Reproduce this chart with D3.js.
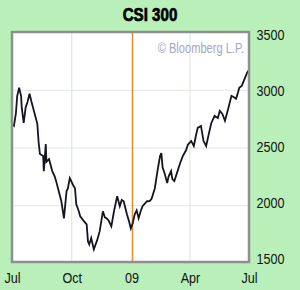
<!DOCTYPE html>
<html>
<head>
<meta charset="utf-8">
<script src="https://cdn.jsdelivr.net/npm/d3@7"></script>
<style>
  body { margin: 0; background: #b9efb9; }
  svg { display: block; }
  .tick-label { font-family: "Liberation Sans", Arial, sans-serif; font-size: 14px; fill: #111; }
</style>
</head>
<body>
<svg class="svg"></svg>
<script>
// CSI 300 close, Jul 2008 - Jul 2009
const dates = [
    '2008-07-02', '2008-07-04', '2008-07-07', '2008-07-09', '2008-07-12', '2008-07-15', '2008-07-16',
    '2008-07-19', '2008-07-22', '2008-07-25', '2008-07-28', '2008-07-31', '2008-08-05', '2008-08-09',
    '2008-08-11', '2008-08-13', '2008-08-18', '2008-08-19', '2008-08-22', '2008-08-23', '2008-08-27',
    '2008-09-01', '2008-09-05', '2008-09-07', '2008-09-11', '2008-09-15', '2008-09-19', '2008-09-23',
    '2008-09-25', '2008-09-28', '2008-10-03', '2008-10-06', '2008-10-08', '2008-10-12', '2008-10-14',
    '2008-10-20', '2008-10-24', '2008-10-26', '2008-10-28', '2008-10-31', '2008-11-04', '2008-11-09',
    '2008-11-13', '2008-11-18', '2008-11-21', '2008-11-24', '2008-11-27', '2008-12-01', '2008-12-05',
    '2008-12-10', '2008-12-14', '2008-12-17', '2008-12-20', '2008-12-25', '2008-12-28', '2008-12-31',
    '2009-01-03', '2009-01-06', '2009-01-09', '2009-01-12', '2009-01-15', '2009-01-18', '2009-01-25',
    '2009-01-29', '2009-02-01', '2009-02-06', '2009-02-10', '2009-02-14', '2009-02-16', '2009-02-18',
    '2009-02-21', '2009-02-25', '2009-02-27', '2009-03-03', '2009-03-05', '2009-03-08', '2009-03-13',
    '2009-03-17', '2009-03-21', '2009-03-26', '2009-03-29', '2009-04-03', '2009-04-07', '2009-04-10',
    '2009-04-13', '2009-04-18', '2009-04-22', '2009-04-26', '2009-04-30', '2009-05-04', '2009-05-09',
    '2009-05-14', '2009-05-17', '2009-05-21', '2009-05-25', '2009-05-30', '2009-06-04', '2009-06-09',
    '2009-06-11', '2009-06-13', '2009-06-16', '2009-06-20', '2009-06-25', '2009-06-28', '2009-06-30'
];
const closes = [
    2700, 2691, 2800, 2950, 3022, 2950, 2850,
    2717, 2850, 2900, 2970, 2900, 2795, 2709,
    2550, 2448, 2430, 2300, 2535, 2380, 2404,
    2300, 2250, 2213, 2126, 2039, 1891, 2126,
    2150, 2239, 2180, 2152, 2013, 1950, 1909,
    1865, 1839, 1691, 1665, 1720, 1622, 1700,
    1778, 1952, 1900, 1891, 1870, 1822, 1950,
    2083, 1996, 2050, 2039, 1926, 1870, 1804,
    1850, 1926, 1960, 1891, 1950, 1996, 2039,
    2040, 2060, 2152, 2300, 2430, 2456, 2330,
    2282, 2196, 2250, 2300, 2230, 2213, 2300,
    2370, 2430, 2480, 2530, 2561, 2517, 2600,
    2674, 2691, 2560, 2517, 2620, 2717, 2778,
    2760, 2822, 2795, 2735, 2839, 2952, 2935,
    2926, 2960, 3022, 3040, 3109, 3150, 3170
];
const yTicks = [1500, 2000, 2500, 3000, 3500];
const xTicks = ['2008-07-01', '2008-10-01', '2009-01-01', '2009-04-01', '2009-07-01'];
const xTickLabels = ['Jul', 'Oct', '09', 'Apr', 'Jul'];
const markerDate = '2009-01-01';

const width = 300;
const height = 290;
const box = { left: 12, top: 32, right: 249, bottom: 262 };
const squeeze = 'scale(0.9,1)';
const parse = d3.timeParse('%Y-%m-%d');

const svg = d3.select('.svg')
    .attr('width', width)
    .attr('height', height);

const xScale = d3.scaleTime()
    .domain([parse(xTicks[0]), parse(xTicks[4])])
    .range([box.left, box.right]);
const yScale = d3.scaleLinear()
    .domain([1500, 3500])
    .range([263.5, 32.5]);
// the printed labels sit a little tighter than the grid
const yLabelScale = d3.scaleLinear()
    .domain([1500, 3500])
    .range([258.5, 34.5]);

/* title */
svg.append('text')
    .attr('transform', 'translate(150,21) scale(0.84,1)')
    .attr('text-anchor', 'middle')
    .style('font-family', '"Liberation Sans", Arial, sans-serif')
    .style('font-weight', 'bold')
    .style('font-size', '18px')
    .style('fill', '#000')
    .style('stroke', '#000')
    .style('stroke-width', 0.7)
    .text('CSI 300');

/* plot background */
svg.append('rect')
    .attr('x', box.left)
    .attr('y', box.top)
    .attr('width', box.right - box.left)
    .attr('height', box.bottom - box.top)
    .attr('fill', '#fff');

/* grid */
svg.append('g')
    .selectAll('line')
    .data(yTicks.slice(1, 4)).enter()
    .append('line')
    .attr('x1', box.left)
    .attr('x2', box.right)
    .attr('y1', d => yScale(d))
    .attr('y2', d => yScale(d))
    .attr('stroke', '#dfe9df')
    .attr('stroke-width', 1.2);
svg.append('g')
    .selectAll('line')
    .data([xTicks[1], xTicks[3]]).enter()
    .append('line')
    .attr('x1', d => xScale(parse(d)))
    .attr('x2', d => xScale(parse(d)))
    .attr('y1', box.top)
    .attr('y2', box.bottom)
    .attr('stroke', '#dfe9df')
    .attr('stroke-width', 1.2);

/* year marker */
svg.append('line')
    .attr('x1', xScale(parse(markerDate)) + 1)
    .attr('x2', xScale(parse(markerDate)) + 1)
    .attr('y1', box.top)
    .attr('y2', box.bottom)
    .attr('stroke', '#f08a2c')
    .attr('stroke-width', 1.5);

/* copyright */
svg.append('text')
    .attr('transform', 'translate(244,53) scale(0.74,1)')
    .attr('text-anchor', 'end')
    .style('font-family', '"Liberation Sans", Arial, sans-serif')
    .style('font-size', '15px')
    .style('fill', '#a6a6c6')
    .text('\u00A9 Bloomberg L.P.');

/* line */
const series = dates.map((d, i) => ({ date: parse(d), value: closes[i] }));
const line = d3.line()
    .x(d => xScale(d.date))
    .y(d => yScale(d.value));
svg.append('path')
    .datum(series)
    .attr('d', line)
    .attr('fill', 'none')
    .attr('stroke', '#15151f')
    .attr('stroke-width', 1.8)
    .attr('stroke-linejoin', 'miter');

/* frame */
svg.append('rect')
    .attr('x', box.left)
    .attr('y', box.top)
    .attr('width', box.right - box.left)
    .attr('height', box.bottom - box.top)
    .attr('fill', 'none')
    .attr('stroke', '#8f8f8f')
    .attr('stroke-width', 2.5);

/* axes */
const yAxis = d3.axisRight(yLabelScale)
    .tickValues(yTicks)
    .tickFormat(d3.format('d'))
    .tickSize(0)
    .tickPadding(0);
svg.append('g')
    .attr('transform', `translate(256.5, 0)`)
    .call(yAxis)
    .call(g => g.select('.domain').remove())
    .call(g => g.selectAll('text')
        .attr('class', 'tick-label')
        .attr('font-family', null)
        .attr('font-size', null)
        .attr('fill', null)
        .attr('dy', '0.36em')
        .attr('transform', squeeze));

const xAxis = d3.axisBottom(xScale)
    .tickValues(xTicks.map(parse))
    .tickFormat((d, i) => xTickLabels[i])
    .tickSize(0)
    .tickPadding(0);
svg.append('g')
    .attr('transform', `translate(0, 283)`)
    .call(xAxis)
    .call(g => g.select('.domain').remove())
    .call(g => g.selectAll('text')
        .attr('class', 'tick-label')
        .attr('font-family', null)
        .attr('font-size', null)
        .attr('fill', null)
        .attr('dy', 0)
        .attr('transform', squeeze));
</script>
</body>
</html>
